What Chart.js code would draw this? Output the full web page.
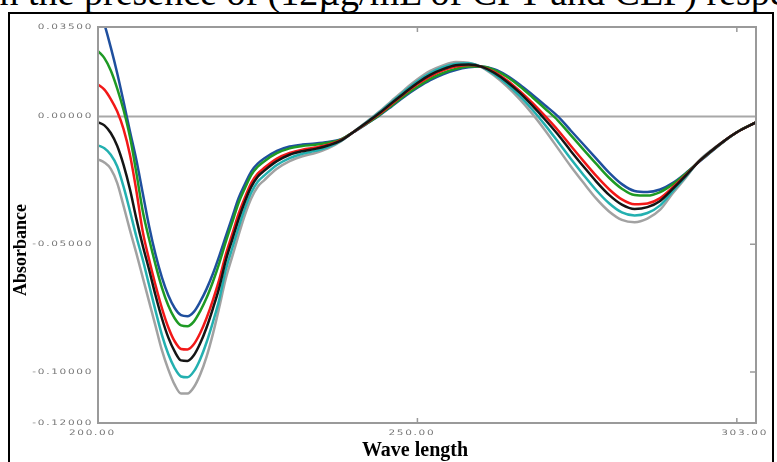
<!DOCTYPE html>
<html>
<head>
<meta charset="utf-8">
<script src="https://cdn.jsdelivr.net/npm/chart.js@4.4.1/dist/chart.umd.min.js"></script>
<style>
  html, body { margin: 0; padding: 0; background: #fff; overflow: hidden; }
  body { width: 777px; height: 462px; position: relative; }
  #caption {
    position: absolute; left: -11px; top: -27px; white-space: nowrap;
    font: 38px/38px "Liberation Serif", serif; color: #000;
  }
  #frame {
    position: absolute; left: 8px; top: 12px; width: 762px; height: 470px;
    border: 2px solid #000;
  }
  #c { position: absolute; left: 0; top: 0; }
</style>
</head>
<body>
<div id="caption">in the presence of (12µg/mL of CPT and CEF) respectively</div>
<div id="frame"></div>
<canvas id="c" width="777" height="462"></canvas>
<script>
// wavelengths (nm)
const wavelengths = [200,201,202,203,204,205,206,207,208,209,210,211,212,213,214,215,216,217,218,219,220,221,222,223,224,225,226,
  228,230,232,234,236,238,240,242,244,246,248,250,252,254,256,258,260,262,264,266,268,270,272,274,276,278,280,282,284,286,288,290,292,294,296,298,300,303];

// absorbance curves
const absBlue = [0.0420,0.0360,0.0270,0.0170,0.0058,-0.0058,-0.0170,-0.0300,-0.0430,-0.0540,-0.0630,-0.0700,-0.0750,-0.0778,-0.0782,-0.0765,-0.0725,-0.0675,-0.0615,-0.0545,-0.0470,-0.0395,-0.0320,-0.0265,-0.0215,-0.0185,-0.0165,
  -0.0135,-0.0118,-0.0110,-0.0106,-0.0100,-0.0090,-0.0062,-0.0030,0.0003,0.0040,0.0078,0.0112,0.0142,0.0165,0.0182,0.0192,0.0195,0.0185,0.0160,0.0125,0.0085,0.0043,0.0000,-0.0055,-0.0110,-0.0165,-0.0220,-0.0265,-0.0292,-0.0296,-0.0286,-0.0260,-0.0222,-0.0180,-0.0138,-0.0098,-0.0062,-0.0023];
const absGreen = [0.0256,0.0228,0.0180,0.0110,0.0025,-0.0080,-0.0220,-0.0370,-0.0480,-0.0580,-0.0670,-0.0740,-0.0790,-0.0818,-0.0821,-0.0803,-0.0762,-0.0710,-0.0646,-0.0573,-0.0491,-0.0415,-0.0339,-0.0281,-0.0229,-0.0197,-0.0176,
  -0.0144,-0.0125,-0.0116,-0.0111,-0.0103,-0.0091,-0.0061,-0.0029,0.0005,0.0043,0.0082,0.0116,0.0147,0.0170,0.0186,0.0195,0.0195,0.0182,0.0155,0.0118,0.0075,0.0030,-0.0016,-0.0073,-0.0130,-0.0186,-0.0240,-0.0283,-0.0308,-0.0310,-0.0296,-0.0265,-0.0224,-0.0178,-0.0136,-0.0097,-0.0062,-0.0023];
const absRed = [0.0125,0.0105,0.0068,0.0020,-0.0050,-0.0150,-0.0290,-0.0450,-0.0560,-0.0660,-0.0750,-0.0825,-0.0880,-0.0910,-0.0912,-0.0892,-0.0848,-0.0789,-0.0718,-0.0637,-0.0541,-0.0462,-0.0382,-0.0317,-0.0260,-0.0224,-0.0202,
  -0.0165,-0.0143,-0.0130,-0.0122,-0.0111,-0.0093,-0.0061,-0.0027,0.0009,0.0049,0.0090,0.0126,0.0157,0.0180,0.0195,0.0201,0.0195,0.0174,0.0142,0.0100,0.0053,0.0001,-0.0054,-0.0115,-0.0175,-0.0233,-0.0285,-0.0325,-0.0344,-0.0341,-0.0320,-0.0277,-0.0230,-0.0178,-0.0135,-0.0096,-0.0062,-0.0023];
const absBlack = [-0.0023,-0.0035,-0.0065,-0.0115,-0.0190,-0.0285,-0.0400,-0.0505,-0.0600,-0.0700,-0.0790,-0.0865,-0.0920,-0.0955,-0.0957,-0.0935,-0.0888,-0.0826,-0.0751,-0.0668,-0.0564,-0.0483,-0.0403,-0.0333,-0.0275,-0.0236,-0.0213,
  -0.0175,-0.0150,-0.0136,-0.0127,-0.0114,-0.0095,-0.0061,-0.0025,0.0012,0.0053,0.0093,0.0131,0.0163,0.0185,0.0200,0.0203,0.0195,0.0171,0.0136,0.0093,0.0042,-0.0013,-0.0071,-0.0135,-0.0196,-0.0255,-0.0307,-0.0345,-0.0362,-0.0355,-0.0331,-0.0283,-0.0232,-0.0178,-0.0135,-0.0096,-0.0062,-0.0023];
const absCyan = [-0.0113,-0.0125,-0.0150,-0.0195,-0.0275,-0.0370,-0.0470,-0.0560,-0.0660,-0.0760,-0.0855,-0.0930,-0.0985,-0.1018,-0.1021,-0.0998,-0.0950,-0.0884,-0.0804,-0.0715,-0.0600,-0.0517,-0.0435,-0.0360,-0.0298,-0.0256,-0.0232,
  -0.0190,-0.0163,-0.0146,-0.0135,-0.0120,-0.0096,-0.0061,-0.0024,0.0015,0.0057,0.0099,0.0138,0.0170,0.0193,0.0206,0.0208,0.0194,0.0165,0.0127,0.0080,0.0026,-0.0034,-0.0099,-0.0166,-0.0229,-0.0289,-0.0340,-0.0376,-0.0388,-0.0378,-0.0348,-0.0292,-0.0236,-0.0178,-0.0134,-0.0096,-0.0062,-0.0023];
const absGray = [-0.0168,-0.0180,-0.0205,-0.0260,-0.0350,-0.0445,-0.0535,-0.0630,-0.0725,-0.0820,-0.0915,-0.0990,-0.1050,-0.1085,-0.1085,-0.1060,-0.1010,-0.0940,-0.0850,-0.0745,-0.0635,-0.0550,-0.0465,-0.0385,-0.0320,-0.0275,-0.0250,
  -0.0205,-0.0175,-0.0156,-0.0143,-0.0125,-0.0098,-0.0060,-0.0022,0.0018,0.0062,0.0105,0.0145,0.0178,0.0200,0.0213,0.0210,0.0193,0.0160,0.0118,0.0068,0.0010,-0.0055,-0.0125,-0.0195,-0.0260,-0.0322,-0.0372,-0.0405,-0.0414,-0.0400,-0.0365,-0.0300,-0.0240,-0.0175,-0.0132,-0.0095,-0.0062,-0.0023];

const yTickValues = [0.035, 0, -0.05, -0.10, -0.12];
const yTickLabels = ['0.03500', '0.00000', '-0.05000', '-0.10000', '-0.12000'];
const xTickValues = [200, 250, 303];
const xTickLabels = ['200.00', '250.00', '303.00'];
const xMarkValues = [250, 300];
const yMarkValues = [-0.05, -0.10];

function series(vals, color) {
  return {
    data: wavelengths.map((w, i) => ({ x: w, y: vals[i] })),
    borderColor: color,
    borderWidth: 2.5,
    pointRadius: 0,
    cubicInterpolationMode: 'monotone',
    fill: false
  };
}

// draws the grey box, zero line, ticks, labels and axis titles
const axesPlugin = {
  id: 'axesPlugin',
  beforeDatasetsDraw(chart) {
    const { ctx, chartArea: a, scales: { y } } = chart;
    const y0 = y.getPixelForValue(0);
    ctx.save();
    ctx.strokeStyle = '#a8a8a8';
    ctx.lineWidth = 2;
    ctx.beginPath();
    ctx.moveTo(a.left, y0);
    ctx.lineTo(a.right, y0);
    ctx.stroke();
    ctx.restore();
  },
  afterDatasetsDraw(chart) {
    const { ctx, chartArea: a, scales: { x, y } } = chart;
    ctx.save();
    ctx.strokeStyle = '#9a9a9a';
    ctx.lineWidth = 2;
    ctx.strokeRect(a.left, a.top, a.right - a.left, a.bottom - a.top);

    ctx.lineWidth = 1.5;
    ctx.beginPath();
    xMarkValues.forEach(v => {
      const px = x.getPixelForValue(v);
      ctx.moveTo(px, a.top); ctx.lineTo(px, a.top + 5);
      ctx.moveTo(px, a.bottom); ctx.lineTo(px, a.bottom - 5);
    });
    yMarkValues.forEach(v => {
      const py = y.getPixelForValue(v);
      ctx.moveTo(a.right, py); ctx.lineTo(a.right - 6, py);
    });
    ctx.stroke();

    // stretched, spaced-out tick text
    ctx.fillStyle = '#777';
    ctx.font = '7.5px "DejaVu Sans"';
    ctx.letterSpacing = '1.2px';
    ctx.textBaseline = 'middle';
    const sx = 1.4;
    yTickValues.forEach((v, i) => {
      const py = y.getPixelForValue(v);
      ctx.save();
      ctx.scale(sx, 1);
      ctx.textAlign = 'right';
      ctx.fillText(yTickLabels[i], (a.left - 5) / sx, py);
      ctx.restore();
    });
    xTickValues.forEach((v, i) => {
      const px = x.getPixelForValue(v);
      ctx.save();
      ctx.scale(sx, 1);
      ctx.textAlign = 'left';
      const w = ctx.measureText(xTickLabels[i]).width * sx;
      const left = Math.min(px - 29, a.right + 12 - w);
      ctx.fillText(xTickLabels[i], left / sx, a.bottom + 10);
      ctx.restore();
    });
    ctx.letterSpacing = '0px';

    ctx.fillStyle = '#000';
    ctx.font = 'bold 20px "Liberation Serif"';
    ctx.textAlign = 'center';
    ctx.textBaseline = 'middle';
    ctx.fillText('Wave length', 415, 451);

    ctx.save();
    ctx.translate(21, 250);
    ctx.rotate(-Math.PI / 2);
    ctx.font = 'bold 18px "Liberation Serif"';
    ctx.fillText('Absorbance', 0, 0);
    ctx.restore();
    ctx.restore();
  }
};

new Chart(document.getElementById('c'), {
  type: 'line',
  data: {
    datasets: [
      series(absBlack, '#151515'),
      series(absRed, '#f21818'),
      series(absGreen, '#1e9a24'),
      series(absBlue, '#1f4f9e'),
      series(absCyan, '#23b0b0'),
      series(absGray, '#a2a2a2')
    ]
  },
  options: {
    responsive: false,
    animation: false,
    events: [],
    layout: { padding: { left: 98, top: 27, right: 21, bottom: 39 } },
    plugins: { legend: { display: false }, tooltip: { enabled: false } },
    scales: {
      x: { type: 'linear', min: 200, max: 303, display: false },
      y: { type: 'linear', min: -0.12, max: 0.035, display: false }
    }
  },
  plugins: [axesPlugin]
});
</script>
</body>
</html>
